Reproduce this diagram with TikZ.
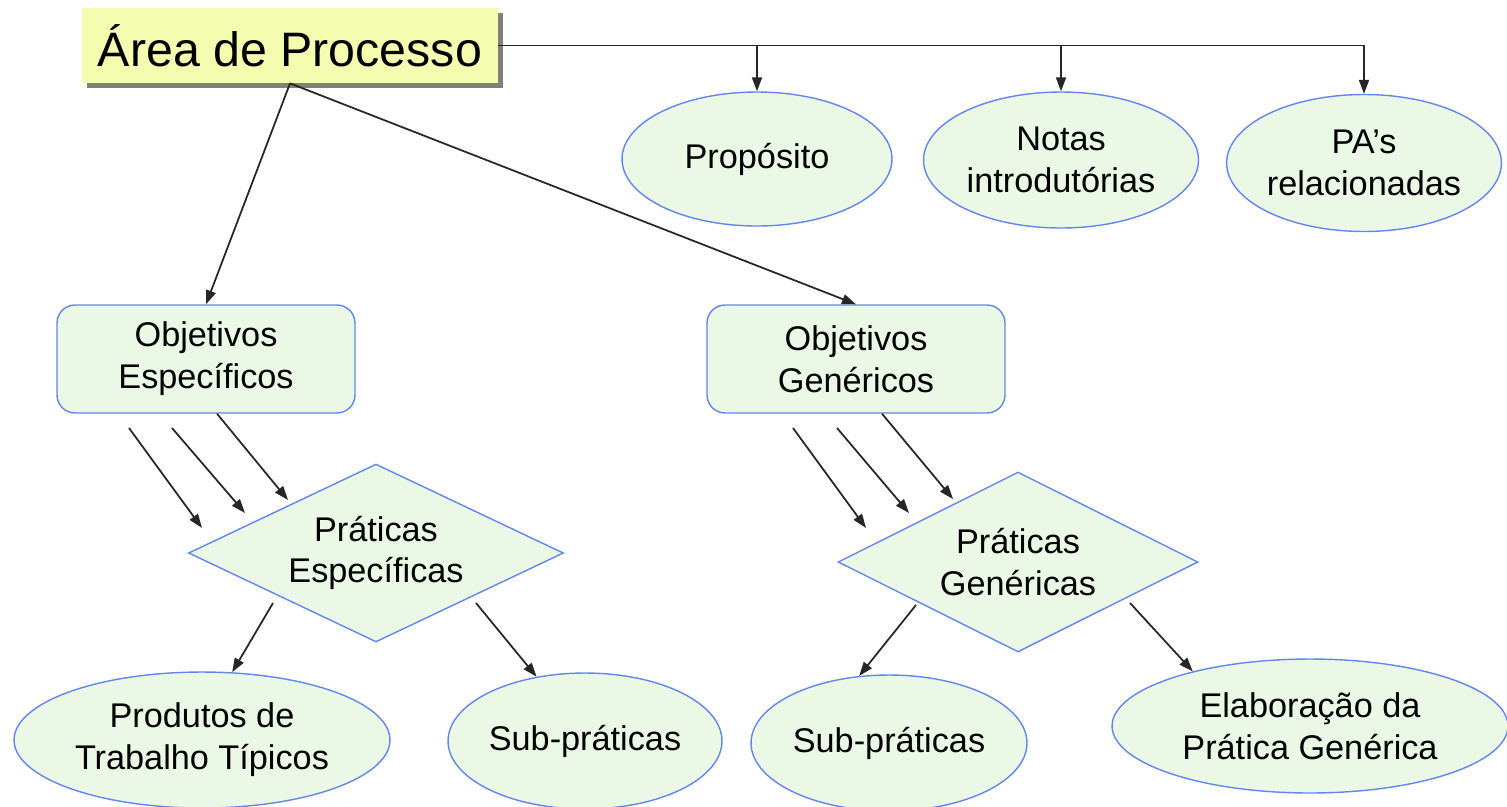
\documentclass[tikz,border=0pt]{standalone}
\usepackage{fontspec}
\setmainfont{Liberation Sans}
\usetikzlibrary{shapes.geometric,arrows.meta,shadows}
\definecolor{palegreen}{RGB}{236,248,230}
\definecolor{edgeblue}{RGB}{98,134,240}
\definecolor{titleyellow}{RGB}{243,252,175}

\begin{document}
\begin{tikzpicture}[x=0.02cm, y=-0.02cm,
  every node/.style={align=center, inner sep=0pt, font=\fontsize{19.5}{23.8}\selectfont},
  areabox/.style={rectangle, fill=titleyellow, minimum width=8.32cm, minimum height=1.5cm,
    font=\fontsize{27.5}{33}\selectfont,
    drop shadow={fill=black!50, opacity=1, shadow xshift=0.1cm, shadow yshift=-0.1cm}},
  oval/.style={ellipse, draw=edgeblue, fill=palegreen, line width=0.8pt},
  goal/.style={rectangle, rounded corners=0.36cm, draw=edgeblue, fill=palegreen, line width=0.8pt,
    minimum width=5.96cm, minimum height=2.16cm},
  practice/.style={diamond, aspect=2.1, draw=edgeblue, fill=palegreen, line width=0.8pt},
  link/.style={-{Triangle[length=0.28cm, width=0.2cm]}, line width=1pt, black!85}]
\useasboundingbox (0,0) rectangle (1507,806);

\node[areabox] (area) at (290,45.5) {Área de Processo};

\node[oval, minimum width=5.4cm, minimum height=2.68cm] (prop) at (757,159) {Propósito};
\node[oval, minimum width=5.5cm, minimum height=2.72cm] (notas) at (1061,160) {Notas\\introdutórias};
\node[oval, minimum width=5.46cm, minimum height=2.74cm] (pas) at (1364,163) {PA’s\\relacionadas};

\node[goal] (objesp) at (206,359) {Objetivos\\Específicos};
\node[goal] (objgen) at (856,359) {Objetivos\\Genéricos};

\node[practice, minimum width=7.5cm, minimum height=3.56cm] (praesp) at (376,553) {Práticas\\Específicas};
\node[practice, minimum width=7.2cm, minimum height=3.6cm] (pragen) at (1018,562) {Práticas\\Genéricas};

\node[oval, minimum width=7.52cm, minimum height=2.72cm] (produtos) at (202,740) {Produtos de\\Trabalho Típicos};
\node[oval, minimum width=5.48cm, minimum height=2.72cm] (subesp) at (585,741) {Sub-práticas};
\node[oval, minimum width=5.52cm, minimum height=2.72cm] (subgen) at (889,743) {Sub-práticas};
\node[oval, minimum width=7.92cm, minimum height=2.68cm] (elab) at (1310,726) {Elaboração da\\Prática Genérica};

\coordinate (es1) at (129,428);
\coordinate (es2) at (172,428);
\coordinate (ee1) at (202,528);
\coordinate (ee2) at (245,513);
\coordinate (ee3) at (288,500);
\coordinate (gs1) at (793,428);
\coordinate (gs2) at (837,428);
\coordinate (ge1) at (866,528);
\coordinate (ge2) at (909,513);
\coordinate (ge3) at (953,499);
\coordinate (pe1) at (273,603);
\coordinate (pe2) at (476,603);
\coordinate (pg1) at (916,605);
\coordinate (pg2) at (1130,603);

\draw[link] (area.east) -| (pas);
\draw[link] (area.east -| prop.north) -- (prop.north);
\draw[link] (area.east -| notas.north) -- (notas.north);

\draw[link] (area.south) -- (objesp.north);
\draw[link] (area.south) -- (objgen.north);

\draw[link] (es1) -- (ee1);
\draw[link] (es2) -- (ee2);
\draw[link] ([xshift=0.22cm]objesp.south) -- (ee3);
\draw[link] (gs1) -- (ge1);
\draw[link] (gs2) -- (ge2);
\draw[link] ([xshift=0.52cm]objgen.south) -- (ge3);

\draw[link] (pe1) -- (produtos.66);
\draw[link] (pe2) -- (subesp.127);
\draw[link] (pg1) -- (subgen.114);
\draw[link] (pg2) -- (elab.155);

\end{tikzpicture}
\end{document}
